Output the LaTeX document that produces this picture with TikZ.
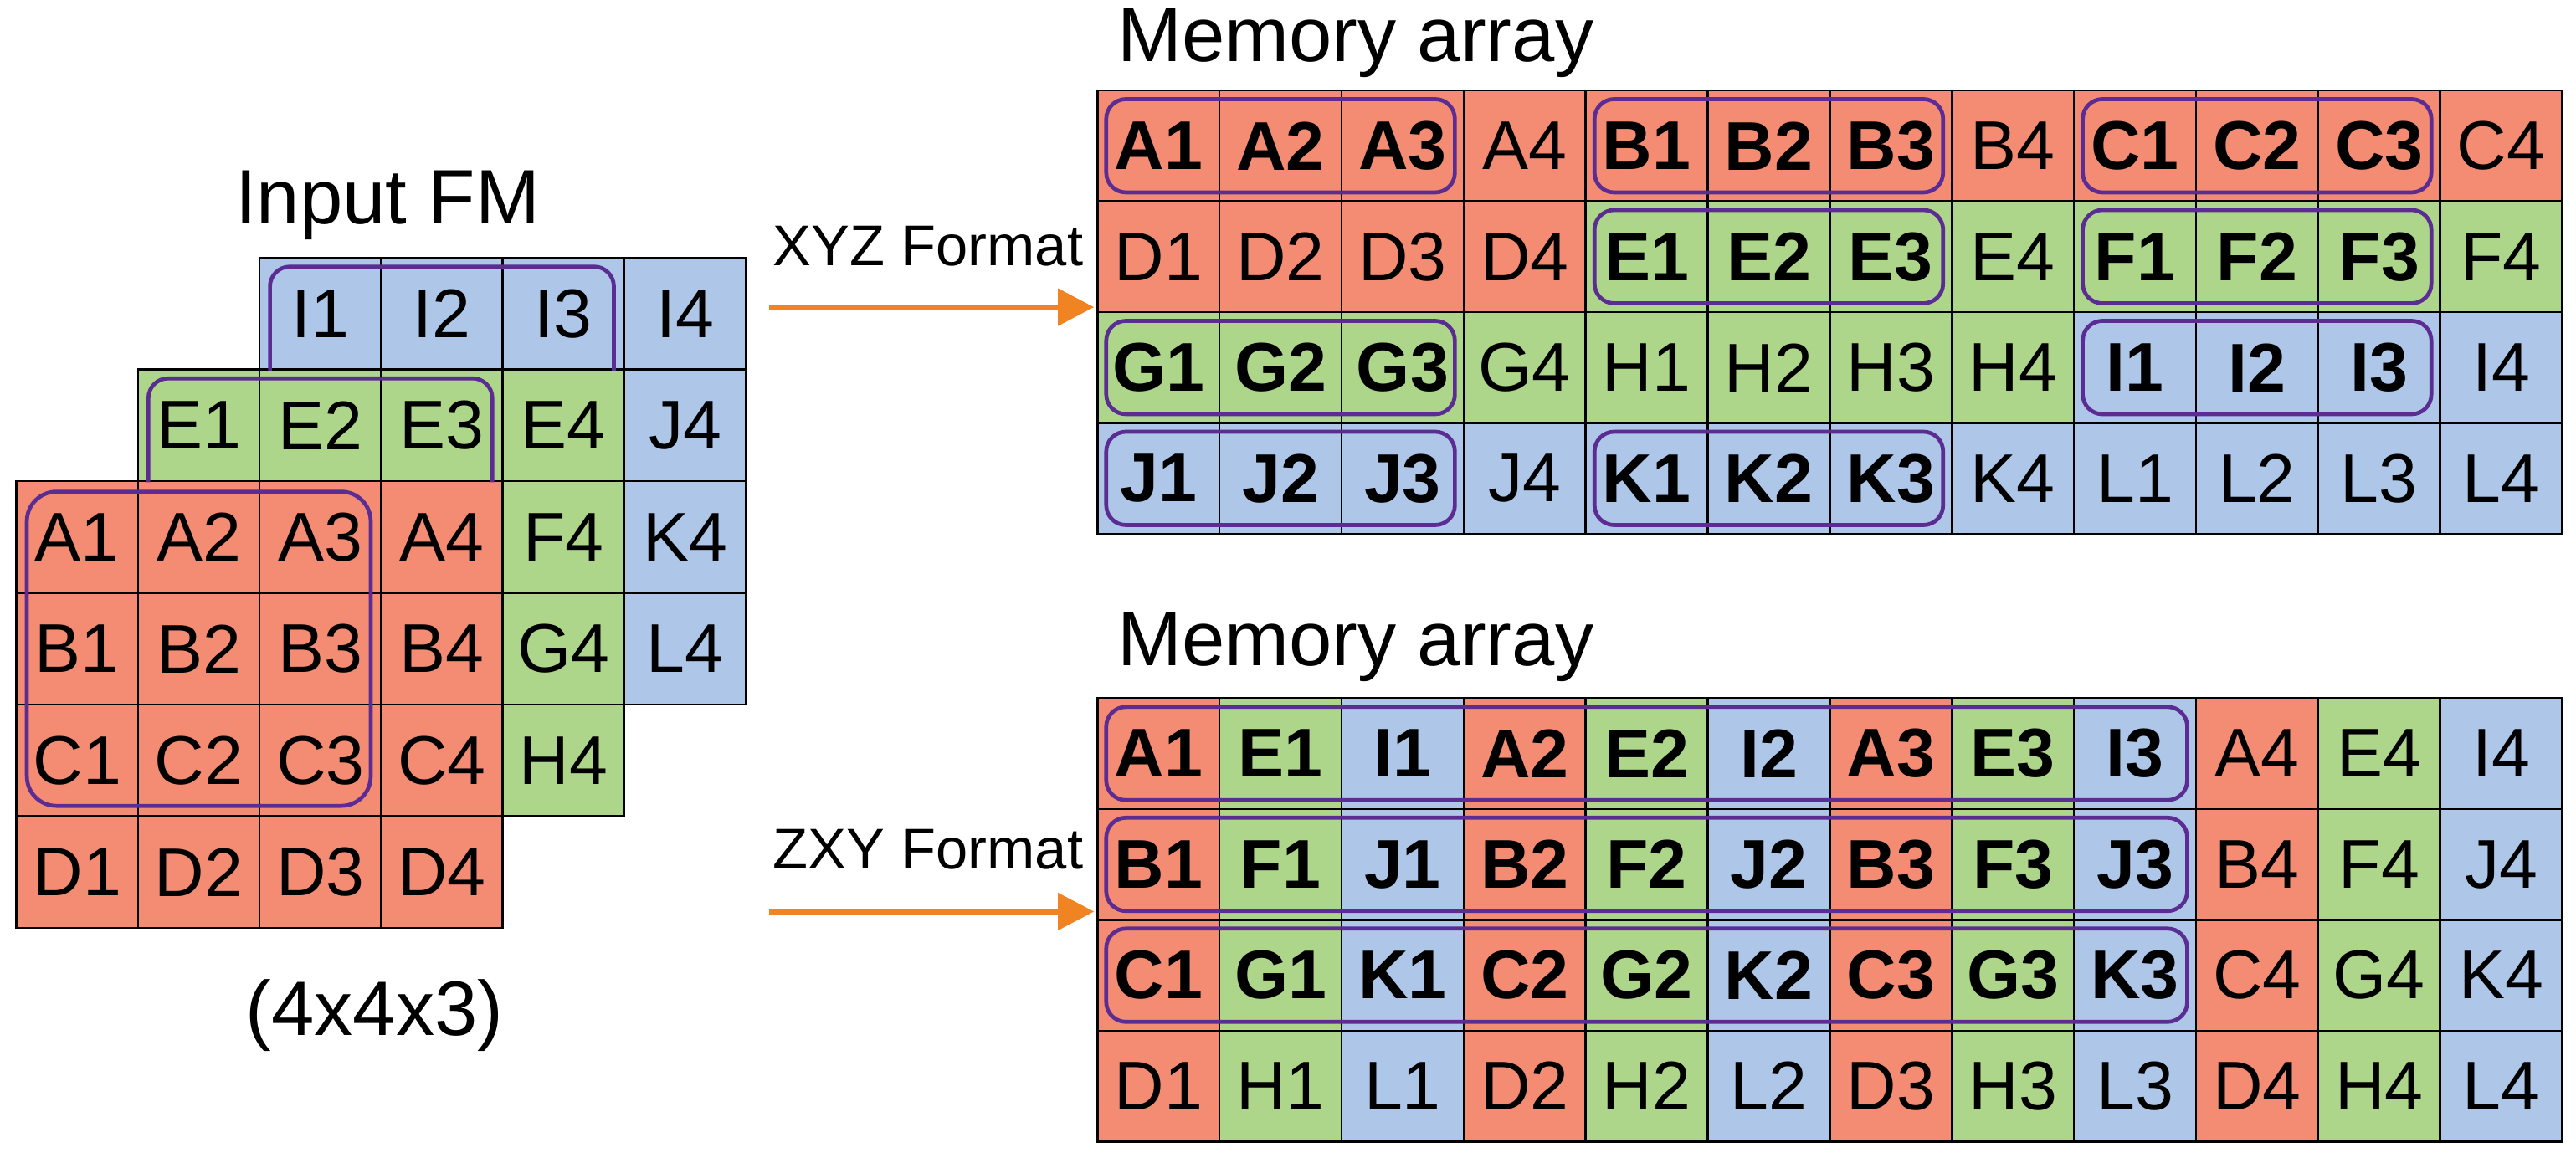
\documentclass[tikz,border=0pt]{standalone}
\usepackage{fontspec}
\setmainfont{Liberation Sans}
\usetikzlibrary{calc,arrows.meta}
\definecolor{cr}{HTML}{F48C74}
\definecolor{cg}{HTML}{AED68A}
\definecolor{cb}{HTML}{AEC6E8}
\definecolor{pur}{HTML}{5B2C91}
\definecolor{org}{HTML}{F08322}
\tikzset{
  cell/.style={draw=black,line width=1.3pt,minimum width=74pt,minimum height=68pt,inner sep=0pt,font=\fontsize{42}{46}\selectfont,anchor=center},
  mcell/.style={cell,minimum width=74.3pt,minimum height=67.5pt},
  grp/.style={draw=pur,line width=2.4pt,rounded corners=12pt},
  ttl/.style={font=\fontsize{47}{52}\selectfont,inner sep=0pt},
  lbl/.style={font=\fontsize{35}{40}\selectfont,inner sep=0pt},
  arr/.style={draw=org,line width=3.5pt,-{Triangle[length=22pt,width=22pt]}}
}
\begin{document}
\begin{tikzpicture}[x=1pt,y=-1pt]
\useasboundingbox (0,0) rectangle (1568,705);
% ---- left input FM: blue layer
\foreach \lab/\c/\r in {I1/2/-1,I2/3/-1,I3/4/-1,I4/5/-1,J4/5/0,K4/5/1,L4/5/2}
  \node[cell,fill=cb] (L\lab) at ({10+74*(\c+0.5)},{225+68*(\r+0.5)}) {\lab};
% green layer
\foreach \lab/\c/\r in {E1/1/0,E2/2/0,E3/3/0,E4/4/0,F4/4/1,G4/4/2,H4/4/3}
  \node[cell,fill=cg] (L\lab) at ({10+74*(\c+0.5)},{225+68*(\r+0.5)}) {\lab};
% red layer
\foreach \lab/\c/\r in {A1/0/0,A2/1/0,A3/2/0,A4/3/0,B1/0/1,B2/1/1,B3/2/1,B4/3/1,C1/0/2,C2/1/2,C3/2/2,C4/3/2,D1/0/3,D2/1/3,D3/2/3,D4/3/3}
  \node[cell,fill=cr] (L\lab) at ({10+74*(\c+0.5)},{293+68*(\r+0.5)}) {\lab};
\draw[grp] ($(LI1.south west)+(7,0)$) |- ($(LI3.north east)+(-7,6)$) -- ($(LI3.south east)+(-7,0)$);
\draw[grp] ($(LE1.south west)+(7,0)$) |- ($(LE3.north east)+(-7,6)$) -- ($(LE3.south east)+(-7,0)$);
\draw[grp,rounded corners=18pt] ($(LA1.north west)+(7,7)$) rectangle ($(LC3.south east)+(-7,-7)$);
\node[ttl] (tin) at (236,125) {Input FM};
\node[ttl] (dim) at (228,618) {(4x4x3)};
% ---- arrows
\coordinate (a1s) at (468,187); \coordinate (a1e) at (666,187);
\coordinate (a2s) at (468,555); \coordinate (a2e) at (666,555);
\draw[arr] (a1s) -- (a1e);
\draw[arr] (a2s) -- (a2e);
\node[lbl] (lx) at (565,150) {XYZ Format};
\node[lbl] (lz) at (565,517) {ZXY Format};
% ---- top memory array
\node[ttl,anchor=west] (t1) at (680,26) {Memory array};
\foreach \lab/\col/\b [count=\i from 0] in {
 A1/cr/1,A2/cr/1,A3/cr/1,A4/cr/0,B1/cr/1,B2/cr/1,B3/cr/1,B4/cr/0,C1/cr/1,C2/cr/1,C3/cr/1,C4/cr/0,
 D1/cr/0,D2/cr/0,D3/cr/0,D4/cr/0,E1/cg/1,E2/cg/1,E3/cg/1,E4/cg/0,F1/cg/1,F2/cg/1,F3/cg/1,F4/cg/0,
 G1/cg/1,G2/cg/1,G3/cg/1,G4/cg/0,H1/cg/0,H2/cg/0,H3/cg/0,H4/cg/0,I1/cb/1,I2/cb/1,I3/cb/1,I4/cb/0,
 J1/cb/1,J2/cb/1,J3/cb/1,J4/cb/0,K1/cb/1,K2/cb/1,K3/cb/1,K4/cb/0,L1/cb/0,L2/cb/0,L3/cb/0,L4/cb/0}{
  \pgfmathtruncatemacro{\cc}{mod(\i,12)}
  \pgfmathtruncatemacro{\rr}{div(\i,12)}
  \ifnum\b=1 \def\ff{\bfseries}\else\def\ff{}\fi
  \node[mcell,fill=\col] (T\lab) at ({668+74.3*(\cc+0.5)},{55+67.5*(\rr+0.5)}) {\ff\lab};
}
\foreach \p in {A,B,C,E,F,G,I,J,K}
  \draw[grp] ($(T\p1.north west)+(6,6)$) rectangle ($(T\p3.south east)+(-6,-6)$);
% ---- bottom memory array
\node[ttl,anchor=west] (t2) at (680,394) {Memory array};
\foreach \lab/\col/\b [count=\i from 0] in {
 A1/cr/1,E1/cg/1,I1/cb/1,A2/cr/1,E2/cg/1,I2/cb/1,A3/cr/1,E3/cg/1,I3/cb/1,A4/cr/0,E4/cg/0,I4/cb/0,
 B1/cr/1,F1/cg/1,J1/cb/1,B2/cr/1,F2/cg/1,J2/cb/1,B3/cr/1,F3/cg/1,J3/cb/1,B4/cr/0,F4/cg/0,J4/cb/0,
 C1/cr/1,G1/cg/1,K1/cb/1,C2/cr/1,G2/cg/1,K2/cb/1,C3/cr/1,G3/cg/1,K3/cb/1,C4/cr/0,G4/cg/0,K4/cb/0,
 D1/cr/0,H1/cg/0,L1/cb/0,D2/cr/0,H2/cg/0,L2/cb/0,D3/cr/0,H3/cg/0,L3/cb/0,D4/cr/0,H4/cg/0,L4/cb/0}{
  \pgfmathtruncatemacro{\cc}{mod(\i,12)}
  \pgfmathtruncatemacro{\rr}{div(\i,12)}
  \ifnum\b=1 \def\ff{\bfseries}\else\def\ff{}\fi
  \node[mcell,fill=\col] (B\lab) at ({668+74.3*(\cc+0.5)},{425+67.5*(\rr+0.5)}) {\ff\lab};
}
\draw[grp] ($(BA1.north west)+(6,6)$) rectangle ($(BI3.south east)+(-6,-6)$);
\draw[grp] ($(BB1.north west)+(6,6)$) rectangle ($(BJ3.south east)+(-6,-6)$);
\draw[grp] ($(BC1.north west)+(6,6)$) rectangle ($(BK3.south east)+(-6,-6)$);
\end{tikzpicture}
\end{document}
